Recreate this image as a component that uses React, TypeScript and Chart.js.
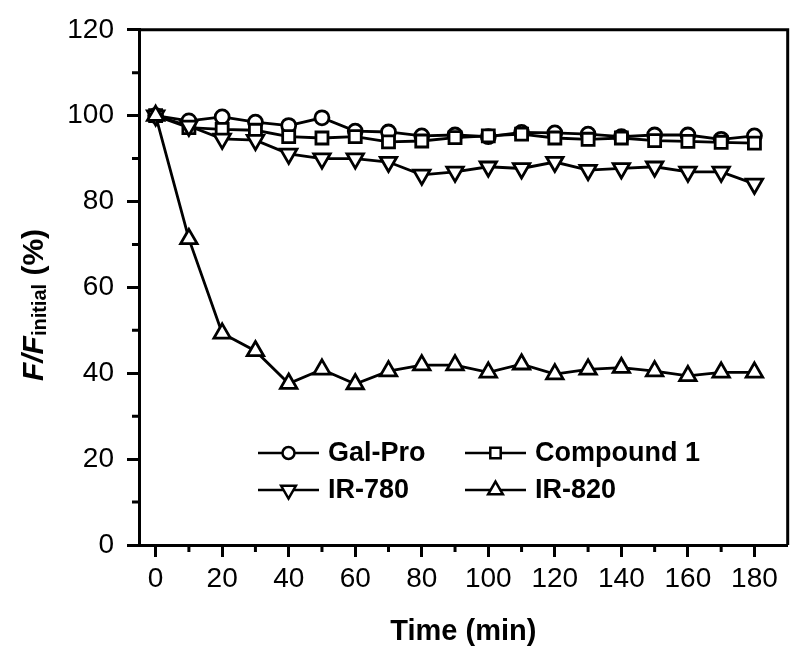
import React, { useEffect, useRef } from 'react';
import { Chart, registerables } from 'chart.js';

Chart.register(...registerables);

const times = [0, 10, 20, 30, 40, 50, 60, 70, 80, 90, 100, 110, 120, 130, 140, 150, 160, 170, 180];
const galPro = [100, 98.8, 99.7, 98.5, 97.7, 99.5, 96.4, 96.2, 95.3, 95.5, 95.1, 96.1, 96.0, 95.7, 95.1, 95.5, 95.5, 94.5, 95.3];
const compound1 = [100, 97.2, 96.8, 96.6, 95.1, 94.8, 95.1, 93.9, 94.1, 94.9, 95.3, 95.7, 94.8, 94.5, 94.8, 94.2, 94.0, 93.8, 93.6];
const ir780 = [100, 97.6, 94.6, 94.3, 91.1, 90.0, 90.0, 89.2, 86.2, 86.9, 88.1, 87.7, 89.2, 87.3, 87.7, 88.1, 86.9, 86.9, 84.1];
const ir820 = [100, 71.3, 49.3, 45.2, 37.6, 40.9, 37.5, 40.5, 41.9, 41.9, 40.2, 42.1, 39.8, 40.9, 41.3, 40.5, 39.4, 40.2, 40.2];

const seriesLabels = ['Gal-Pro', 'Compound 1', 'IR-780', 'IR-820'];
const xTickValues = [0, 20, 40, 60, 80, 100, 120, 140, 160, 180];
const xMinorTicks = [10, 30, 50, 70, 90, 110, 130, 150, 170];
const yTickValues = [0, 20, 40, 60, 80, 100, 120];
const yMinorTicks = [10, 30, 50, 70, 90, 110];

const FONT = '"Liberation Sans", Arial, sans-serif';

type Shape = 'circle' | 'square' | 'down' | 'up';
const shapes: Shape[] = ['circle', 'square', 'down', 'up'];

function drawMarker(ctx: CanvasRenderingContext2D, shape: Shape, x: number, y: number, r: number) {
  ctx.beginPath();
  if (shape === 'circle') {
    ctx.arc(x, y, r, 0, Math.PI * 2);
  } else if (shape === 'square') {
    ctx.rect(x - r, y - r, 2 * r, 2 * r);
  } else {
    const dir = shape === 'up' ? 1 : -1;
    for (let i = 0; i < 3; i++) {
      const a = (i * 2 * Math.PI) / 3;
      const px = x + Math.sin(a) * r;
      const py = y - dir * Math.cos(a) * r;
      if (i === 0) ctx.moveTo(px, py);
      else ctx.lineTo(px, py);
    }
    ctx.closePath();
  }
  ctx.fillStyle = '#fff';
  ctx.fill();
  ctx.stroke();
}

const decor = {
  id: 'decor',
  afterDraw(chart: any) {
    const { ctx, chartArea: a, scales } = chart;
    const xs = scales.x;
    const ys = scales.y;
    ctx.save();
    ctx.strokeStyle = '#000';
    ctx.lineWidth = 3;
    // frame top + right
    ctx.beginPath();
    ctx.moveTo(a.left, a.top);
    ctx.lineTo(a.right, a.top);
    ctx.lineTo(a.right, a.bottom);
    ctx.stroke();
    // minor ticks
    ctx.beginPath();
    yMinorTicks.forEach((v) => {
      const py = ys.getPixelForValue(v);
      ctx.moveTo(a.left, py);
      ctx.lineTo(a.left - 7, py);
    });
    xMinorTicks.forEach((v) => {
      const px = xs.getPixelForValue(v);
      ctx.moveTo(px, a.bottom);
      ctx.lineTo(px, a.bottom + 7);
    });
    ctx.stroke();

    // x title
    ctx.fillStyle = '#000';
    ctx.font = `bold 29px ${FONT}`;
    ctx.textAlign = 'center';
    ctx.textBaseline = 'alphabetic';
    ctx.fillText('Time (min)', (a.left + a.right) / 2, 640);

    // y title
    ctx.save();
    ctx.translate(43, 305);
    ctx.rotate(-Math.PI / 2);
    const f1 = `italic bold 30px ${FONT}`;
    const f2 = `bold 20px ${FONT}`;
    const f3 = `bold 30px ${FONT}`;
    const t1 = 'F/F';
    const t2 = 'initial';
    const t3 = ' (%)';
    ctx.font = f1;
    const w1 = ctx.measureText(t1).width;
    ctx.font = f2;
    const w2 = ctx.measureText(t2).width;
    ctx.font = f3;
    const w3 = ctx.measureText(t3).width;
    let sx = -(w1 + w2 + w3) / 2;
    ctx.textAlign = 'left';
    ctx.font = f1;
    ctx.fillText(t1, sx, 0);
    sx += w1;
    ctx.font = f2;
    ctx.fillText(t2, sx, 3);
    sx += w2;
    ctx.font = f3;
    ctx.fillText(t3, sx, 0);
    ctx.restore();

    // legend
    const legendPos = [
      { x: 258, y: 453 },
      { x: 465, y: 453 },
      { x: 258, y: 490 },
      { x: 465, y: 490 },
    ];
    const legendR = [6, 5.2, 8.5, 8.5];
    ctx.lineWidth = 2.5;
    legendPos.forEach((p, i) => {
      ctx.beginPath();
      ctx.moveTo(p.x, p.y);
      ctx.lineTo(p.x + 61, p.y);
      ctx.stroke();
      drawMarker(ctx, shapes[i], p.x + 30.5, p.y, legendR[i]);
      ctx.fillStyle = '#000';
      ctx.font = `bold 27px ${FONT}`;
      ctx.textAlign = 'left';
      ctx.textBaseline = 'middle';
      ctx.fillText(seriesLabels[i], p.x + 70, p.y + 1);
    });
    ctx.restore();
  },
};

function makeDataset(label: string, values: number[], pointStyle: string, radius: number, rotation: number) {
  return {
    label,
    data: times.map((t, i) => ({ x: t, y: values[i] })),
    borderColor: '#000',
    borderWidth: 2.8,
    backgroundColor: '#fff',
    pointStyle,
    pointRadius: radius,
    pointRotation: rotation,
    pointBorderWidth: 2.8,
    pointBorderColor: '#000',
    pointBackgroundColor: '#fff',
    tension: 0,
    fill: false,
  };
}

export default function App() {
  const ref = useRef<HTMLCanvasElement>(null);
  useEffect(() => {
    document.body.style.margin = '0';
    const canvas = ref.current;
    if (!canvas) return;
    const tickFont = { family: FONT, size: 28 };
    const chart = new Chart(canvas, {
      type: 'line',
      data: {
        datasets: [
          makeDataset(seriesLabels[3], ir820, 'triangle', 9.5, 0),
          makeDataset(seriesLabels[2], ir780, 'triangle', 9.5, 180),
          makeDataset(seriesLabels[1], compound1, 'rect', 8.5, 0),
          makeDataset(seriesLabels[0], galPro, 'circle', 7, 0),
        ] as any,
      },
      options: {
        responsive: false,
        animation: false,
        layout: { padding: { left: 0, right: 10, top: 21.5, bottom: 0 } },
        plugins: { legend: { display: false }, tooltip: { enabled: false } },
        scales: {
          x: {
            type: 'linear',
            min: -5,
            max: 190,
            afterBuildTicks: (s: any) => {
              s.ticks = xTickValues.map((v) => ({ value: v }));
            },
            afterFit: (s: any) => {
              s.height = 113;
            },
            grid: { drawOnChartArea: false, tickLength: 12, tickWidth: 3, tickColor: '#000' },
            border: { color: '#000', width: 3 },
            ticks: { font: tickFont, color: '#000', padding: 5, maxRotation: 0, autoSkip: false },
          },
          y: {
            type: 'linear',
            min: 0,
            max: 120,
            afterBuildTicks: (s: any) => {
              s.ticks = yTickValues.map((v) => ({ value: v }));
            },
            afterFit: (s: any) => {
              s.width = 139;
            },
            grid: { drawOnChartArea: false, tickLength: 12, tickWidth: 3, tickColor: '#000' },
            border: { color: '#000', width: 3 },
            ticks: { font: tickFont, color: '#000', padding: 13, autoSkip: false },
          },
        },
      },
      plugins: [decor],
    });
    return () => chart.destroy();
  }, []);
  return <canvas ref={ref} width={800} height={658} style={{ display: 'block' }} />;
}
